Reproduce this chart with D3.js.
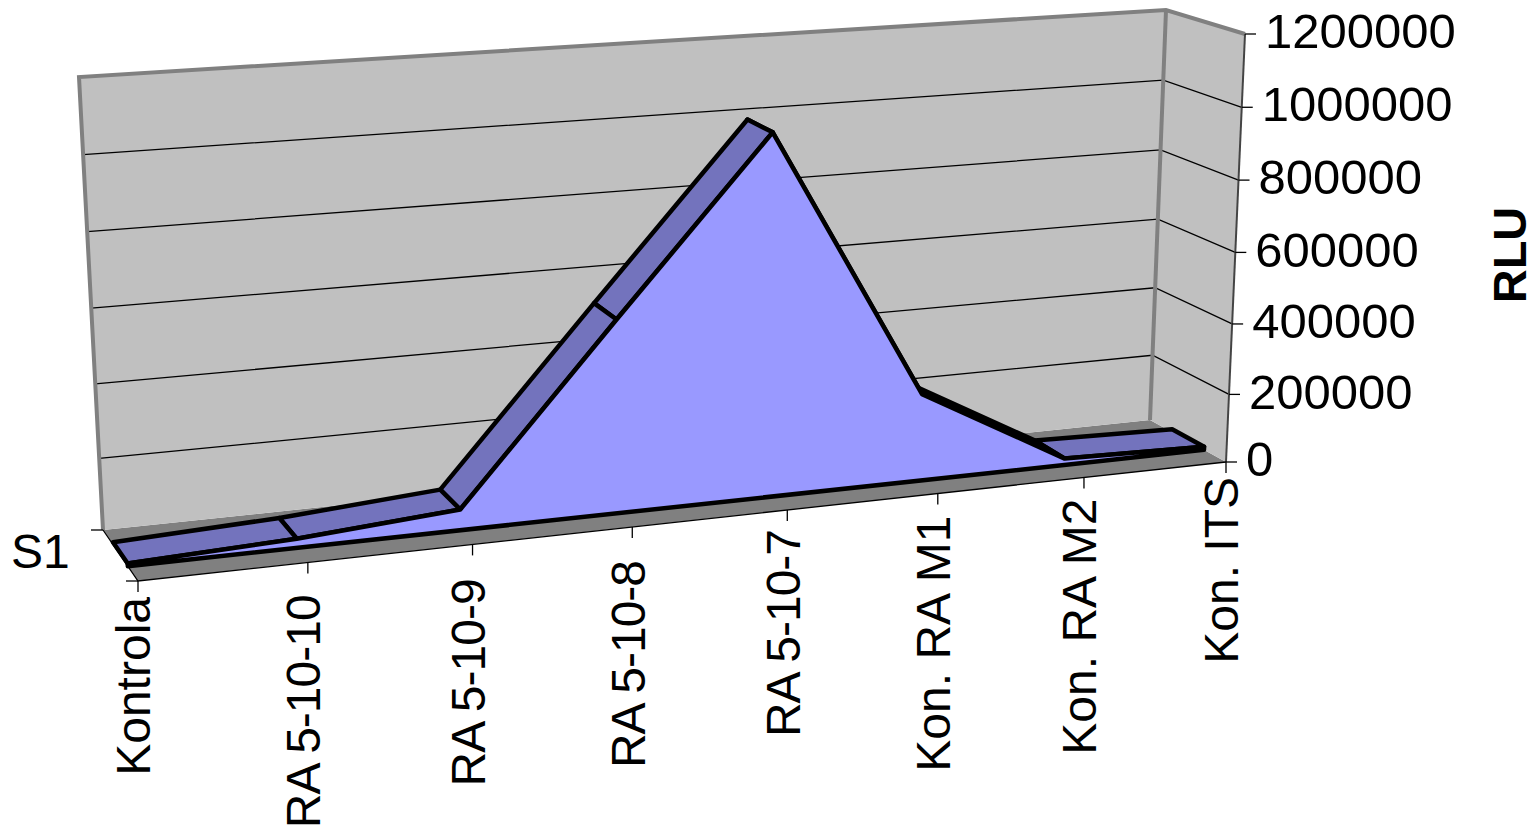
<!DOCTYPE html>
<html>
<head>
<meta charset="utf-8">
<script src="https://cdn.jsdelivr.net/npm/d3@7"></script>
<style>
html, body { margin: 0; padding: 0; background: #fff; overflow: hidden; }
text { font-family: "Liberation Sans", Arial, sans-serif; fill: #000; }
</style>
</head>
<body>
<div id="chart"></div>
<script>
// values
const categories = ["Kontrola", "RA 5-10-10", "RA 5-10-9", "RA 5-10-8", "RA 5-10-7", "Kon. RA M1", "Kon. RA M2", "Kon. ITS"];
const values = [8000, 27000, 60000, 533000, 998000, 250000, 20000, 10000];
const valueTicks = [0, 200000, 400000, 600000, 800000, 1000000, 1200000];
const seriesName = "S1";
const valueTitle = "RLU";

const width = 1536, height = 830;

const svg = d3.select("#chart").append("svg")
    .attr("width", width)
    .attr("height", height);

// corners of the 3d box on screen: [x, y]
const floorFL = [138, 581], floorFR = [1226, 462], floorBL = [103, 530], floorBR = [1150, 420];
const topFL = [111, 109], topFR = [1245, 34], topBL = [79, 77], topBR = [1166, 10];

// gap between the floor edge and each category label
const labelGap = [16, 33, 35, 34, 20, 22, 21, 15];

const mix = (a, b, t) => a + (b - a) * t;
const mix2 = (p, q, t) => [mix(p[0], q[0], t), mix(p[1], q[1], t)];

// scales: category -> u (along the box), value -> w (up the box)
const xScale = d3.scalePoint().domain(categories).range([0, 1]);
const yScale = d3.scalePow().exponent(1.03).domain([0, 1200000]).range([0, 1]);
const seriesK = 0.12, tickK = 0.11; // perspective along the front

function project(cat, depth, value, k) {
    const raw = xScale(cat);
    const u = raw * (1 + k) / (1 + k * raw);
    return projectU(u, depth, value);
}
function projectU(u, depth, value) {
    const w = yScale(value);
    const low = mix2(mix2(floorFL, floorFR, u), mix2(floorBL, floorBR, u), depth);
    const high = mix2(mix2(topFL, topFR, u), mix2(topBL, topBR, u), depth);
    return mix2(low, high, w);
}

const line = d3.line();
const closed = (pts) => line(pts) + "Z";

// walls
svg.append("path")
    .attr("d", closed([floorBL, floorBR, floorFR, floorFL]))
    .attr("fill", "#808080");
svg.append("path")
    .attr("d", closed([topBL, topBR, floorBR, floorBL]))
    .attr("fill", "#c0c0c0");
svg.append("path")
    .attr("d", closed([topBR, topFR, floorFR, floorBR]))
    .attr("fill", "#c0c0c0");

// gridlines
valueTicks.filter((d) => d > 0 && d < 1200000).forEach(function(d) {
    svg.append("path")
        .attr("d", line([projectU(0, 1, d), projectU(1, 1, d), projectU(1, 0, d)]))
        .attr("fill", "none")
        .attr("stroke", "#000")
        .attr("stroke-width", 1.3);
});

// wall edges
svg.append("path")
    .attr("d", line([floorBL, topBL, topBR, topFR]))
    .attr("fill", "none")
    .attr("stroke", "#808080")
    .attr("stroke-width", 4);
svg.append("path")
    .attr("d", line([topBR, floorBR]))
    .attr("fill", "none")
    .attr("stroke", "#808080")
    .attr("stroke-width", 4);
svg.append("path")
    .attr("d", line([topFR, floorFR]))
    .attr("fill", "none")
    .attr("stroke", "#444")
    .attr("stroke-width", 2);
svg.append("path")
    .attr("d", line([floorBL, floorFL, floorFR]))
    .attr("fill", "none")
    .attr("stroke", "#000")
    .attr("stroke-width", 1.3);

// ribbon on top of the area, right to left so the falling part stays behind
const depthFront = 0.29, depthBack = 0.71;
const topGroup = svg.append("g");
d3.range(categories.length - 2, -1, -1).forEach(function(i) {
    const c = categories[i], next = categories[i + 1];
    topGroup.append("path")
        .attr("d", closed([
            project(c, depthFront, values[i], seriesK),
            project(next, depthFront, values[i + 1], seriesK),
            project(next, depthBack, values[i + 1], seriesK),
            project(c, depthBack, values[i], seriesK)
        ]))
        .attr("fill", "#7373bd")
        .attr("stroke", "#000")
        .attr("stroke-width", 4.5)
        .attr("stroke-linejoin", "round");
});

// front face of the area
const frontPts = categories.map((c, i) => project(c, depthFront, values[i], seriesK));
svg.append("path")
    .attr("d", closed(frontPts.concat([
        project(categories[categories.length - 1], depthFront, 0, seriesK),
        project(categories[0], depthFront, 0, seriesK)
    ])))
    .attr("fill", "#9999ff")
    .attr("stroke", "#000")
    .attr("stroke-width", 4.5)
    .attr("stroke-linejoin", "round");

// category ticks and labels
categories.forEach(function(c, i) {
    const p = project(c, 0, 0, tickK);
    svg.append("line")
        .attr("x1", p[0]).attr("y1", p[1])
        .attr("x2", p[0]).attr("y2", p[1] + 11)
        .attr("stroke", "#000")
        .attr("stroke-width", 1.3);
    svg.append("text")
        .attr("transform", "translate(" + (p[0] - 5) + "," + (p[1] + labelGap[i]) + ") rotate(-90)")
        .attr("text-anchor", "end")
        .attr("dy", "0.36em")
        .attr("font-size", 48)
        .style("letter-spacing", c.includes("-") ? "-1px" : null)
        .text(c);
});

// value ticks and labels
valueTicks.forEach(function(d) {
    const p = projectU(1, 0, d);
    svg.append("line")
        .attr("x1", p[0]).attr("y1", p[1])
        .attr("x2", p[0] + 11).attr("y2", p[1])
        .attr("stroke", "#000")
        .attr("stroke-width", 1.3);
    svg.append("text")
        .attr("x", p[0] + 20)
        .attr("y", p[1])
        .attr("dy", "0.29em")
        .attr("font-size", 49)
        .text(d);
});

// depth axis tick and series name
svg.append("line")
    .attr("x1", floorBL[0] - 12).attr("y1", floorBL[1])
    .attr("x2", floorBL[0]).attr("y2", floorBL[1])
    .attr("stroke", "#000")
    .attr("stroke-width", 1.3);
svg.append("line")
    .attr("x1", floorFL[0] - 12).attr("y1", floorFL[1])
    .attr("x2", floorFL[0]).attr("y2", floorFL[1])
    .attr("stroke", "#000")
    .attr("stroke-width", 1.3);
svg.append("text")
    .attr("x", 11)
    .attr("y", 551)
    .attr("dy", "0.36em")
    .attr("font-size", 48)
    .text(seriesName);

// value axis title
svg.append("text")
    .attr("transform", "translate(1509,255) rotate(-90)")
    .attr("text-anchor", "middle")
    .attr("dy", "0.36em")
    .attr("font-size", 47)
    .attr("font-weight", "bold")
    .text(valueTitle);
</script>
</body>
</html>
